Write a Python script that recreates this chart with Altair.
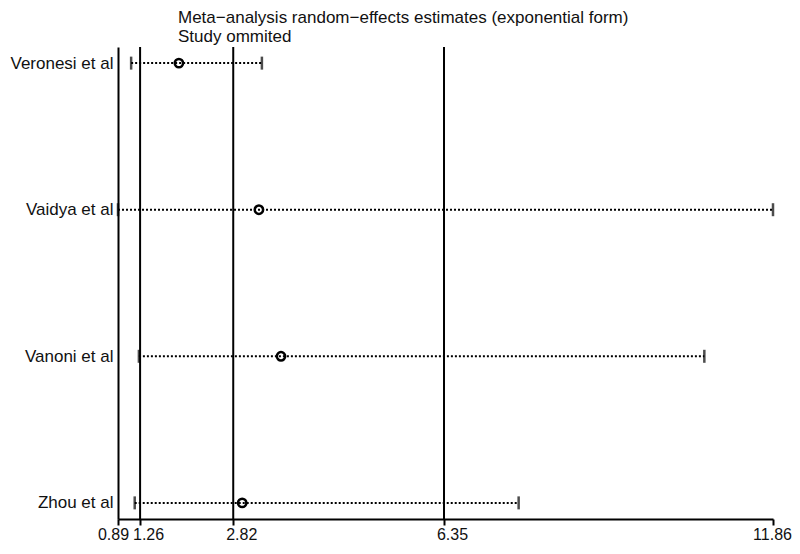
import altair as alt
import pandas as pd

studies = ["Veronesi et al", "Vaidya et al", "Vanoni et al", "Zhou et al"]
estimate = [1.91, 3.25, 3.62, 2.97]
lower = [1.11, 0.89, 1.24, 1.17]
upper = [3.30, 11.86, 10.71, 7.60]
ref_lines = [1.26, 2.82, 6.35]
tick_values = [0.89, 1.26, 2.82, 6.35, 11.86]
title_lines = ["Meta\u2212analysis random\u2212effects estimates (exponential form)", "Study ommited"]

df = pd.DataFrame({"study": studies, "est": estimate, "lo": lower, "hi": upper})
refs = pd.DataFrame({"v": ref_lines})

xscale = alt.Scale(domain=[0.89, 11.86], nice=False, zero=False)
yscale = alt.Scale(type="point", padding=0.11, domain=studies)

xaxis = alt.Axis(
    values=tick_values, format=".2f", title=None, grid=False,
    domainColor="black", domainWidth=2, tickColor="black", tickWidth=2, tickSize=6,
    labelFont="Liberation Sans", labelFontSize=16, labelColor="#111",
    labelPadding=1, labelOverlap=False, labelFlush=False, labelBound=False,
    labelOffset={"condition": [{"test": "datum.value < 1", "value": -5},
                               {"test": "datum.value > 11", "value": -1}], "value": 8},
)
yaxis = alt.Axis(
    title=None, grid=False, ticks=False, domainColor="black", domainWidth=2,
    labelFont="Liberation Sans", labelFontSize=17, labelColor="#111", labelPadding=5,
)

base = alt.Chart(df)

ci = base.mark_rule(color="black", strokeWidth=2, strokeDash=[2, 2]).encode(
    x=alt.X("lo:Q", scale=xscale, axis=xaxis),
    x2="hi:Q",
    y=alt.Y("study:N", scale=yscale, axis=yaxis, sort=studies),
)
cap_lo = base.mark_tick(color="black", thickness=2.5, size=13, orient="vertical").encode(
    x=alt.X("lo:Q", scale=xscale), y=alt.Y("study:N", scale=yscale, sort=studies)
)
cap_hi = base.mark_tick(color="black", thickness=2.5, size=13, orient="vertical").encode(
    x=alt.X("hi:Q", scale=xscale), y=alt.Y("study:N", scale=yscale, sort=studies)
)
vlines = alt.Chart(refs).mark_rule(color="black", strokeWidth=2).encode(
    x=alt.X("v:Q", scale=xscale)
)
pts = base.mark_point(shape="circle", filled=False, color="black", size=70, strokeWidth=2.5, opacity=1).encode(
    x=alt.X("est:Q", scale=xscale), y=alt.Y("study:N", scale=yscale, sort=studies)
)

chart = alt.layer(vlines, ci, cap_lo, cap_hi, pts).properties(
    width=655, height=472,
    title=alt.TitleParams(
        text=title_lines, anchor="start", frame="group", dx=60, fontSize=17, fontWeight="normal",
        font="Liberation Sans", color="#111", lineHeight=19, offset=0,
    ),
    autosize=alt.AutoSizeParams(type="none"),
    padding={"left": 110, "top": 39, "right": 19, "bottom": 27},
).configure_view(stroke=None)

chart.save("out.html", embed_options={"renderer": "svg", "actions": False})
